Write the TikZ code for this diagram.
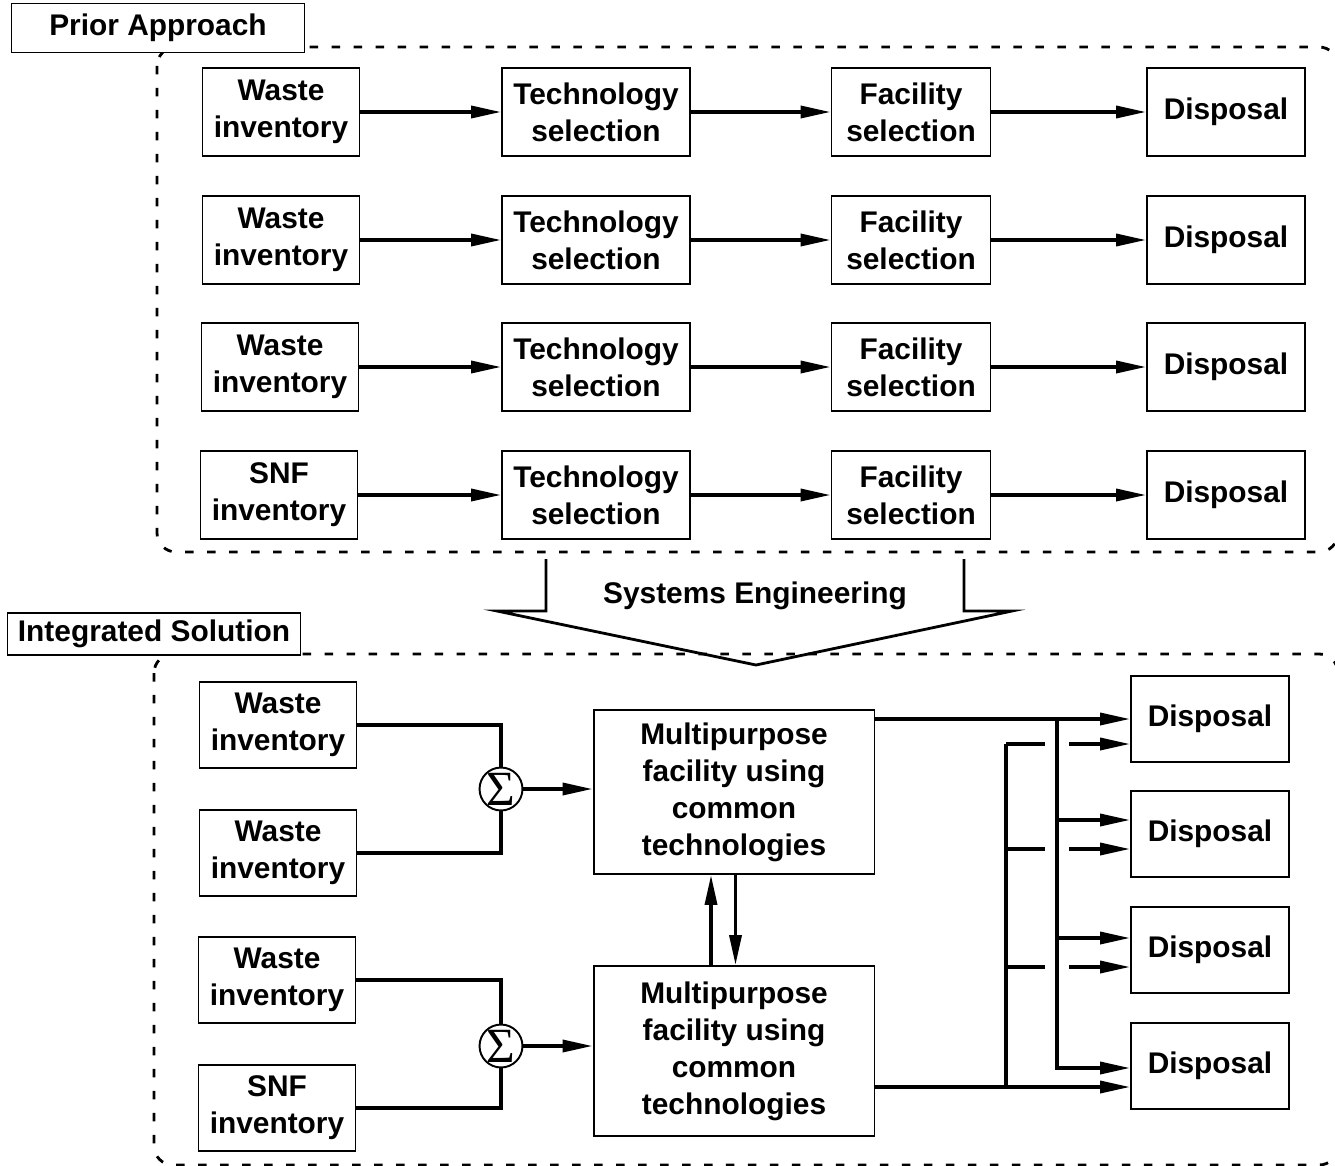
\documentclass[tikz,border=0pt]{standalone}
\usepackage{fontspec}
\setmainfont{Liberation Sans}
\newfontfamily\sumFont{Liberation Serif}
\usepackage{tikz}
\usetikzlibrary{calc}
\usetikzlibrary{arrows.meta}
\usetikzlibrary{positioning}

\begin{document}
\begin{tikzpicture}[x=0.02cm, y=-0.02cm, % one unit = one pixel of the sheet
		font=\bfseries\fontsize{17}{21}\selectfont,
		box/.style={draw, line width=1.1pt, align=center, inner sep=0pt},
		conn/.style={line width=2pt, -{Triangle[length=0.6cm, width=0.24cm]}},
		wire/.style={line width=2pt},
		frame/.style={line width=1.6pt, dash pattern=on 0.17cm off 0.27cm, rounded corners=0.38cm},
		tag/.style={draw, fill=white, line width=1.1pt, minimum width=5.86cm, inner sep=0pt},
		sumnode/.style={draw, circle, line width=1.1pt, minimum size=0.76cm, inner sep=0pt, font=\sumFont\fontsize{28}{28}\selectfont}]
		\newcommand{\invWidth}{3.14cm}
		\newcommand{\rowHeight}{1.76cm}
		
		\useasboundingbox (0,0) rectangle (1335,1166);		% sheet
		
		% frames
		\draw[frame] (157,47) rectangle (1338,552);
		\draw[frame] (154,654) rectangle (1338,1165);
		\node[tag, minimum height=0.98cm] (prior) at (158,28) {Prior Approach};
		\node[tag, minimum height=0.84cm] (integ) at (154,634) {Integrated Solution};
		
		% prior approach, one line per inventory
		\node[box, minimum width=\invWidth, minimum height=\rowHeight] (inv1) at (281,112) {Waste\\inventory};
		\node[box, minimum width=3.76cm, minimum height=\rowHeight] (tech1) at (596,112) {Technology\\selection};
		\node[box, minimum width=3.18cm, minimum height=\rowHeight] (fac1) at (911,112) {Facility\\selection};
		\node[box, minimum width=3.16cm, minimum height=\rowHeight] (disp1) at (1226,112) {Disposal};
		
		\node[box, minimum width=\invWidth, minimum height=\rowHeight] (inv2) at (281,240) {Waste\\inventory};
		\node[box, minimum width=3.76cm, minimum height=\rowHeight] (tech2) at (596,240) {Technology\\selection};
		\node[box, minimum width=3.18cm, minimum height=\rowHeight] (fac2) at (911,240) {Facility\\selection};
		\node[box, minimum width=3.16cm, minimum height=\rowHeight] (disp2) at (1226,240) {Disposal};
		
		\node[box, minimum width=\invWidth, minimum height=\rowHeight] (inv3) at (280,367) {Waste\\inventory};
		\node[box, minimum width=3.76cm, minimum height=\rowHeight] (tech3) at (596,367) {Technology\\selection};
		\node[box, minimum width=3.18cm, minimum height=\rowHeight] (fac3) at (911,367) {Facility\\selection};
		\node[box, minimum width=3.16cm, minimum height=\rowHeight] (disp3) at (1226,367) {Disposal};
		
		\node[box, minimum width=\invWidth, minimum height=\rowHeight] (inv4) at (279,495) {SNF\\inventory};
		\node[box, minimum width=3.76cm, minimum height=\rowHeight] (tech4) at (596,495) {Technology\\selection};
		\node[box, minimum width=3.18cm, minimum height=\rowHeight] (fac4) at (911,495) {Facility\\selection};
		\node[box, minimum width=3.16cm, minimum height=\rowHeight] (disp4) at (1226,495) {Disposal};
		
		\draw[conn] (inv1) -- (tech1);
		\draw[conn] (tech1) -- (fac1);
		\draw[conn] (fac1) -- (disp1);
		\draw[conn] (inv2) -- (tech2);
		\draw[conn] (tech2) -- (fac2);
		\draw[conn] (fac2) -- (disp2);
		\draw[conn] (inv3) -- (tech3);
		\draw[conn] (tech3) -- (fac3);
		\draw[conn] (fac3) -- (disp3);
		\draw[conn] (inv4) -- (tech4);
		\draw[conn] (tech4) -- (fac4);
		\draw[conn] (fac4) -- (disp4);
		
		% big arrow
		\draw[line width=1.6pt] (546,559) -- (546,611) -- (497,611) -- (756,665) -- (1012,611) -- (964,611) -- (964,559);
		\node (syseng) at (755,596) {Systems Engineering};
		
		% integrated solution
		\node[box, minimum width=\invWidth, minimum height=1.72cm] (src1) at (278,725) {Waste\\inventory};
		\node[box, minimum width=\invWidth, minimum height=1.72cm] (src2) at (278,853) {Waste\\inventory};
		\node[box, minimum width=\invWidth, minimum height=1.72cm] (src3) at (277,980) {Waste\\inventory};
		\node[box, minimum width=\invWidth, minimum height=1.72cm] (src4) at (277,1108) {SNF\\inventory};
		
		\node[sumnode] (sum1) at (501,789) {Σ};
		\node[sumnode] (sum2) at (501,1046) {Σ};
		
		\node[box, minimum width=5.62cm, minimum height=3.28cm] (mpf1) at (734,792) {Multipurpose\\facility using\\common\\technologies};
		\node[box, minimum width=5.62cm, minimum height=3.4cm] (mpf2) at (734,1051) {Multipurpose\\facility using\\common\\technologies};
		
		\node[box, minimum width=3.16cm, minimum height=1.72cm] (out1) at (1210,719) {Disposal};
		\node[box, minimum width=3.16cm, minimum height=1.72cm] (out2) at (1210,834) {Disposal};
		\node[box, minimum width=3.16cm, minimum height=1.72cm] (out3) at (1210,950) {Disposal};
		\node[box, minimum width=3.16cm, minimum height=1.72cm] (out4) at (1210,1066) {Disposal};
		
		\draw[wire] (src1.east) -| (sum1.north);
		\draw[wire] (src2.east) -| (sum1.south);
		\draw[conn] (sum1.east) -- (sum1.east -| mpf1.west);
		\draw[wire] (src3.east) -| (sum2.north);
		\draw[wire] (src4.east) -| (sum2.south);
		\draw[conn] (sum2.east) -- (sum2.east -| mpf2.west);
		
		\draw[conn] ([xshift=-0.46cm]mpf2.north) -- ([xshift=-0.46cm]mpf1.south);
		\draw[conn] ([xshift=0.03cm]mpf1.south) -- ([xshift=0.03cm]mpf2.north);
		
		% buses to disposal
		\coordinate (ja1) at (1057,719);
		\coordinate (ja2) at (1057,820);
		\coordinate (ja3) at (1057,938);
		\coordinate (ja4) at (1057,1068);
		\coordinate (jb1) at (1006,744);
		\coordinate (jb2) at (1006,849);
		\coordinate (jb3) at (1006,967);
		\coordinate (jb4) at (1006,1087);
		
		\draw[conn] (mpf2.east |- jb4) -- (jb4 -| out4.west);
		\draw[wire] (jb4) -- (jb1);
		\draw[conn] (jb1) -- (jb1 -| out1.west);
		\draw[conn] (jb2) -- (jb2 -| out2.west);
		\draw[conn] (jb3) -- (jb3 -| out3.west);
		
		\draw[white, line width=0.48cm] (ja1) -- (ja4);		% gap where the buses cross
		\draw[conn] (mpf1.east |- ja1) -- (ja1 -| out1.west);
		\draw[conn] (ja1) |- (ja4 -| out4.west);
		\draw[conn] (ja2) -- (ja2 -| out2.west);
		\draw[conn] (ja3) -- (ja3 -| out3.west);
\end{tikzpicture}
\end{document}
